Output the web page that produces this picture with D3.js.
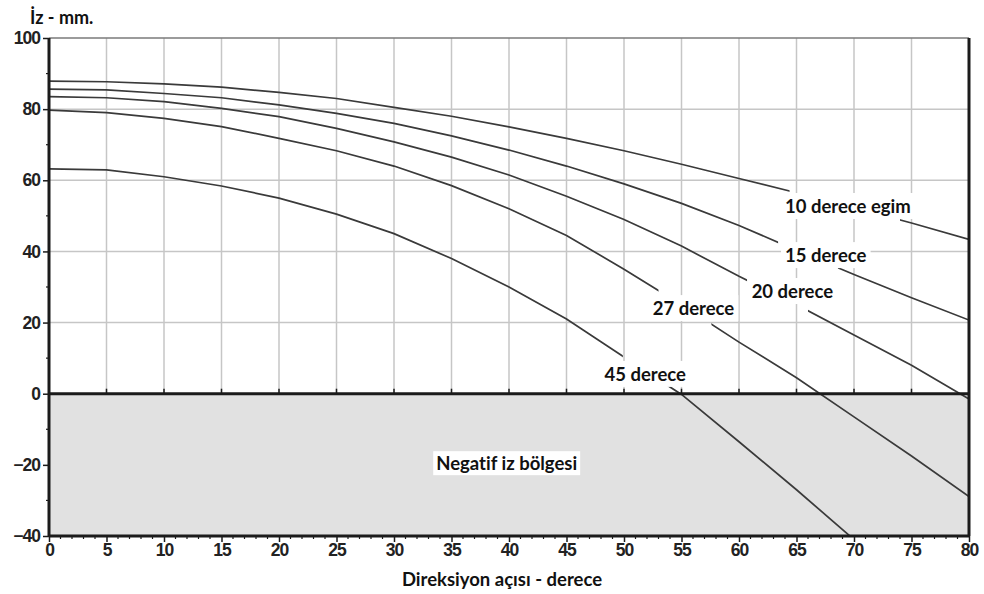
<!DOCTYPE html>
<html>
<head>
<meta charset="utf-8">
<script src="https://cdn.jsdelivr.net/npm/d3@7"></script>
<style>
  html, body { margin: 0; padding: 0; background: #fff; }
  svg { display: block; }
  text { font-variant-ligatures: none; }
</style>
</head>
<body>
<svg id="chart" width="984" height="594"></svg>
<script>
// Steering angle (degrees) at which each track value was taken
const angles = [0, 5, 10, 15, 20, 25, 30, 35, 40, 45, 50, 55, 60, 65, 70, 75, 80];

// Track (mm) per caster angle
const egim10 = [87.9, 87.7, 87.1, 86.2, 84.7, 83.0, 80.5, 78.0, 75.0, 71.8, 68.3, 64.5, 60.5, 56.5, 52.3, 48.0, 43.4];
const egim15 = [85.6, 85.4, 84.4, 83.2, 81.2, 78.8, 76.0, 72.5, 68.5, 64.0, 59.0, 53.5, 47.3, 40.3, 33.5, 27.0, 20.7];
const egim20 = [83.5, 83.2, 82.1, 80.2, 77.9, 74.6, 70.8, 66.5, 61.5, 55.5, 49.0, 41.5, 33.0, 25.0, 16.5, 8.0, -1.5];
const egim27 = [79.7, 79.0, 77.4, 75.1, 71.8, 68.3, 64.0, 58.5, 52.0, 44.5, 35.0, 25.0, 14.5, 4.5, -6.5, -17.5, -28.9];
const egim45 = [63.2, 62.9, 61.0, 58.4, 55.0, 50.5, 45.0, 38.0, 30.0, 21.0, 10.3, -0.2, -13.5, -27.0, -41.0, null, null];

const seriesValues = [egim10, egim15, egim20, egim27, egim45];
const seriesLabels = ["10 derece egim", "15 derece", "20 derece", "27 derece", "45 derece"];

// Angle span where each curve passes behind its own label
const labelGaps = [[64.4, 74.0], [63.4, 68.6], [60.7, 66.0], [53.0, 57.6], [49.9, 53.4]];
// Label anchors (angle, mm) = left edge / baseline of the text
const labelAnchors = [[64.0, 50.8], [64.0, 37.0], [61.1, 26.9], [52.5, 22.1], [48.3, 3.6]];

const xTickValues = d3.range(0, 81, 5);
const yTickValues = d3.range(-40, 101, 20);

const xTitle = "Direksiyon açısı - derece";
const yTitle = "İz - mm.";
const negativeLabel = "Negatif iz bölgesi";

// ---- layout ----
const W = 984, H = 594;
const plot = { left: 49, right: 969, top: 38, bottom: 536 };

const x = d3.scaleLinear().domain([0, 80]).range([plot.left, plot.right]);
const y = d3.scaleLinear().domain([-40, 100]).range([plot.bottom, plot.top]);

const svg = d3.select("#chart");
const defs = svg.append("defs");

const labelFont = "Lato, 'Open Sans', sans-serif";
const tickFont = "'Liberation Sans', Arial, sans-serif";
const ink = "#1b1b1b";

// negative track region
svg.append("rect")
  .attr("x", x(0)).attr("y", y(0))
  .attr("width", x(80) - x(0)).attr("height", y(-40) - y(0))
  .attr("fill", "#e1e1e1");

// grid
const grid = svg.append("g").attr("stroke", "#c6c6c6").attr("stroke-width", 1.5);
grid.selectAll("line.v")
  .data(xTickValues.filter(d => d > 0 && d < 80))
  .join("line")
  .attr("x1", d => x(d)).attr("x2", d => x(d))
  .attr("y1", y(100)).attr("y2", y(0));
grid.selectAll("line.h")
  .data(yTickValues.filter(d => d > 0 && d < 100))
  .join("line")
  .attr("x1", x(0)).attr("x2", x(80))
  .attr("y1", d => y(d)).attr("y2", d => y(d));

// top frame line
svg.append("line")
  .attr("x1", x(0)).attr("x2", x(80))
  .attr("y1", y(100)).attr("y2", y(100))
  .attr("stroke", "#7a7a7a").attr("stroke-width", 1.5);

// curve labels: white boxes first, text later
const labelLayer = svg.append("g");
const labelTexts = labelLayer.selectAll("text")
  .data(seriesLabels)
  .join("text")
  .attr("x", (d, i) => x(labelAnchors[i][0]))
  .attr("y", (d, i) => y(labelAnchors[i][1]))
  .attr("font-family", labelFont)
  .attr("font-weight", 700)
  .attr("font-size", 18.5)
  .attr("fill", "#111")
  .text(d => d);

labelTexts.each(function () {
  const b = this.getBBox();
  labelLayer.insert("rect", "text")
    .attr("x", b.x - 4).attr("y", b.y - 2)
    .attr("width", b.width + 8).attr("height", b.height + 4)
    .attr("fill", "#fff");
});

// curves, each with its label gap cut out
const plotClip = defs.append("clipPath").attr("id", "plot-clip");
plotClip.append("rect")
  .attr("x", plot.left).attr("y", plot.top)
  .attr("width", plot.right - plot.left).attr("height", plot.bottom - plot.top);

const line = d3.line()
  .defined(d => d[1] !== null)
  .x(d => x(d[0]))
  .y(d => y(d[1]));

const curves = svg.append("g").attr("clip-path", "url(#plot-clip)");
seriesValues.forEach((vals, i) => {
  const id = "gap-clip-" + i;
  const cp = defs.append("clipPath").attr("id", id);
  const [g0, g1] = labelGaps[i];
  cp.append("rect").attr("x", x(0) - 5).attr("y", 0)
    .attr("width", x(g0) - x(0) + 5).attr("height", H);
  cp.append("rect").attr("x", x(g1)).attr("y", 0)
    .attr("width", x(80) - x(g1) + 5).attr("height", H);
  curves.append("path")
    .datum(angles.map((a, j) => [a, vals[j]]))
    .attr("clip-path", "url(#" + id + ")")
    .attr("fill", "none")
    .attr("stroke", "#3a3a3a")
    .attr("stroke-width", 1.7)
    .attr("d", line);
});

// frame and zero line
const frame = svg.append("g").attr("stroke", ink).attr("stroke-width", 3).attr("fill", "none");
frame.append("line").attr("x1", x(0)).attr("x2", x(0)).attr("y1", y(100)).attr("y2", y(-40));
frame.append("line").attr("x1", x(80)).attr("x2", x(80)).attr("y1", y(100)).attr("y2", y(-40));
frame.append("line").attr("x1", x(0)).attr("x2", x(80)).attr("y1", y(-40)).attr("y2", y(-40));
frame.append("line").attr("x1", x(0)).attr("x2", x(80)).attr("y1", y(0)).attr("y2", y(0));

// short ticks above the zero line
svg.append("g").selectAll("line")
  .data(xTickValues.filter(d => d > 0 && d < 80))
  .join("line")
  .attr("x1", d => x(d)).attr("x2", d => x(d))
  .attr("y1", y(0) - 5).attr("y2", y(0))
  .attr("stroke", ink).attr("stroke-width", 1.5);

// x axis
const xAxis = svg.append("g")
  .attr("transform", `translate(0,${y(-40)})`)
  .call(d3.axisBottom(x).tickValues(xTickValues).tickSize(6).tickPadding(2).tickFormat(d3.format("d")));
xAxis.select(".domain").remove();
xAxis.selectAll(".tick line").attr("stroke", ink).attr("stroke-width", 1.5);
xAxis.selectAll(".tick text")
  .attr("font-family", tickFont).attr("font-weight", 700).attr("font-size", 17.5)
  .attr("letter-spacing", -1).attr("fill", "#222");
// minor x ticks every degree
svg.append("g").selectAll("line")
  .data(d3.range(0, 81, 1).filter(d => d % 5 !== 0))
  .join("line")
  .attr("x1", d => x(d)).attr("x2", d => x(d))
  .attr("y1", y(-40)).attr("y2", y(-40) + 3)
  .attr("stroke", ink).attr("stroke-width", 1.2);

// y axis
const yAxis = svg.append("g")
  .attr("transform", `translate(${x(0)},0)`)
  .call(d3.axisLeft(y).tickValues(yTickValues).tickSize(6).tickPadding(3).tickFormat(d3.format("d")));
yAxis.select(".domain").remove();
yAxis.selectAll(".tick line").attr("stroke", ink).attr("stroke-width", 1.5);
yAxis.selectAll(".tick text")
  .attr("font-family", tickFont).attr("font-weight", 700).attr("font-size", 17.5)
  .attr("letter-spacing", -1).attr("fill", "#222");
// minor y ticks every 10 mm
svg.append("g").selectAll("line")
  .data(d3.range(-30, 100, 20))
  .join("line")
  .attr("x1", x(0) - 3).attr("x2", x(0))
  .attr("y1", d => y(d)).attr("y2", d => y(d))
  .attr("stroke", ink).attr("stroke-width", 1.2);

// bring curve label texts to the front
labelLayer.raise();

// negative region label
const negText = svg.append("text")
  .attr("x", x(39.8)).attr("y", y(-21.5))
  .attr("text-anchor", "middle")
  .attr("font-family", labelFont).attr("font-weight", 700).attr("font-size", 18.5)
  .attr("fill", "#111")
  .text(negativeLabel);
const nb = negText.node().getBBox();
svg.insert("rect", () => negText.node())
  .attr("x", nb.x - 3).attr("y", nb.y - 1)
  .attr("width", nb.width + 6).attr("height", nb.height + 2)
  .attr("fill", "#fff");

// axis titles
svg.append("text")
  .attr("x", 30).attr("y", 24)
  .attr("font-family", labelFont).attr("font-weight", 700).attr("font-size", 18)
  .attr("fill", "#111")
  .text(yTitle);
svg.append("text")
  .attr("x", 502).attr("y", 586)
  .attr("text-anchor", "middle")
  .attr("font-family", labelFont).attr("font-weight", 700).attr("font-size", 18.5)
  .attr("fill", "#111")
  .text(xTitle);
</script>
</body>
</html>
